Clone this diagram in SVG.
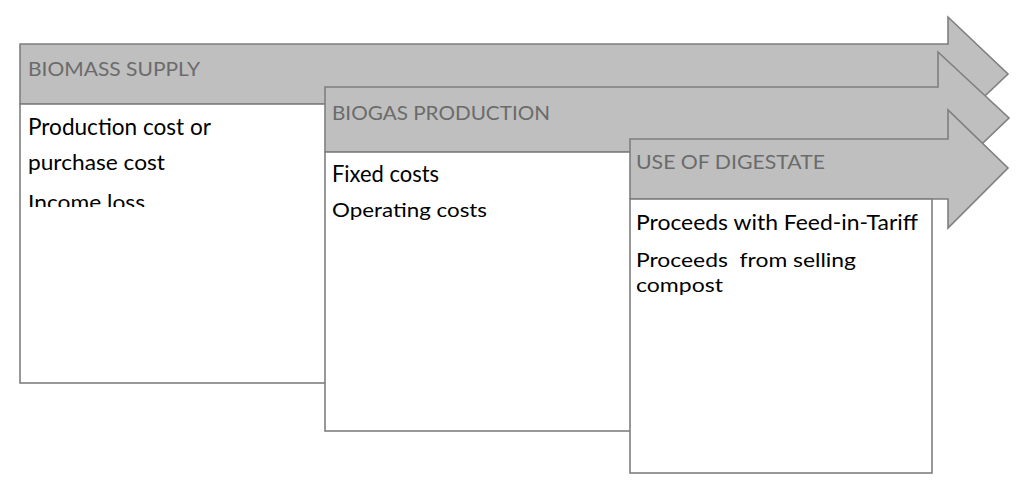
<svg xmlns="http://www.w3.org/2000/svg" width="1024" height="488" viewBox="0 0 1024 488">
<style>
.arrow{fill:#bfbfbf;stroke:#7f7f7f;stroke-width:1.6;stroke-linejoin:miter}
.body{fill:#ffffff;stroke:#7f7f7f;stroke-width:1.6}
.hd{font-family:Lato,"Open Sans","Liberation Sans",sans-serif;font-size:20px;fill:#6b6b6b}
.tx{font-family:Lato,"Open Sans","Liberation Sans",sans-serif;fill:#000000}
</style>
<defs>
<clipPath id="clip1"><rect x="20" y="104" width="300" height="103"/></clipPath>
</defs>
<rect width="1024" height="488" fill="#ffffff"/>
<g id="biomass-supply">
<polygon class="arrow" points="20,44 948,44 948,17 1008,74 948,131 948,104 20,104"/>
<rect class="body" x="20" y="104" width="400" height="279"/>
<text class="hd" x="28" y="76" textLength="172" lengthAdjust="spacingAndGlyphs">BIOMASS SUPPLY</text>
<g clip-path="url(#clip1)">
<text class="tx" x="28" y="135" font-size="23" textLength="183" lengthAdjust="spacingAndGlyphs">Production cost or</text>
<text class="tx" x="28" y="170" font-size="21" textLength="137" lengthAdjust="spacingAndGlyphs">purchase cost</text>
<text class="tx" x="28" y="210" font-size="21" textLength="117" lengthAdjust="spacingAndGlyphs">Income loss</text>
</g>
</g>
<g id="biogas-production">
<polygon class="arrow" points="325,87 938,87 938,52 1009,118 938,186 938,152 325,152"/>
<rect class="body" x="325" y="152" width="400" height="279"/>
<text class="hd" x="332" y="120" textLength="218" lengthAdjust="spacingAndGlyphs">BIOGAS PRODUCTION</text>
<text class="tx" x="332" y="182" font-size="23" textLength="107" lengthAdjust="spacingAndGlyphs">Fixed costs</text>
<text class="tx" x="332" y="217" font-size="19" textLength="155" lengthAdjust="spacingAndGlyphs">Operating costs</text>
</g>
<g id="use-of-digestate">
<polygon class="arrow" points="630,139 948,139 948,110 1008,168 948,228 948,199 630,199"/>
<rect class="body" x="630" y="199" width="302" height="274"/>
<text class="hd" x="636" y="169" textLength="189" lengthAdjust="spacingAndGlyphs">USE OF DIGESTATE</text>
<text class="tx" x="636" y="230" font-size="21" textLength="282" lengthAdjust="spacingAndGlyphs">Proceeds with Feed-in-Tariff</text>
<text class="tx" x="636" y="267" font-size="19" textLength="220" lengthAdjust="spacingAndGlyphs" xml:space="preserve">Proceeds  from selling</text>
<text class="tx" x="636" y="292" font-size="19" textLength="87" lengthAdjust="spacingAndGlyphs">compost</text>
</g>
<g id="connectors"></g>
</svg>
